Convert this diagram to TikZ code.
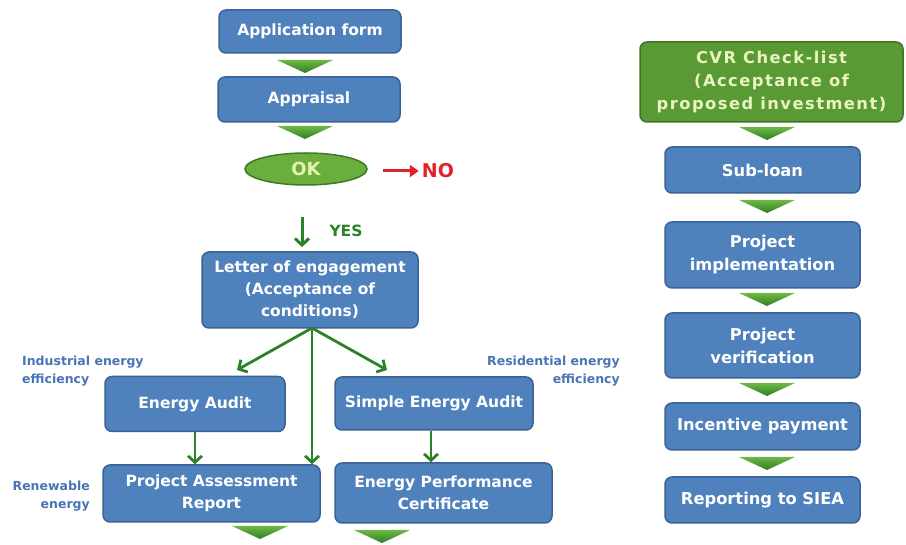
\documentclass[tikz,border=0pt]{standalone}
\usepackage{fontspec}
\setmainfont{DejaVu Sans}
\usetikzlibrary{arrows.meta,shapes.geometric,calc}
\definecolor{boxblue}{HTML}{4F81BD}
\definecolor{boxedge}{HTML}{3A6296}
\definecolor{cvrgreen}{HTML}{5A9A35}
\definecolor{cvredge}{HTML}{3E7324}
\definecolor{cvrtext}{HTML}{EAF4C0}
\definecolor{arrgreen}{HTML}{2C8228}
\definecolor{lblblue}{HTML}{4A73B5}
\definecolor{okfill}{HTML}{6AAE3E}
\definecolor{okedge}{HTML}{3E7A24}
\definecolor{oktext}{HTML}{E6F2B0}
\definecolor{noRed}{HTML}{E0232B}
\definecolor{trilight}{HTML}{6FB845}
\definecolor{tridark}{HTML}{2F7F22}
\begin{document}
\begin{tikzpicture}[x=1pt,y=-1pt,
  box/.style={draw=boxedge, line width=1.5pt, fill=boxblue, rounded corners=7pt,
    text=white, align=center, inner sep=0pt,
    font=\bfseries\fontsize{15.5}{22}\selectfont},
  rbox/.style={box, font=\bfseries\fontsize{16.3}{23}\selectfont},
  cvrbox/.style={box, draw=cvredge, fill=cvrgreen, text=cvrtext,
    font=\bfseries\fontsize{16.3}{23}\selectfont\addfontfeatures{LetterSpace=9}},
  okell/.style={ellipse, draw=okedge, line width=1.5pt, fill=okfill, text=oktext,
    inner sep=0pt, font=\bfseries\fontsize{18}{20}\selectfont},
  lbl/.style={text=lblblue, inner sep=0pt, font=\bfseries\fontsize{12.5}{18}\selectfont},
  garrow/.style={draw=arrgreen, line width=2.8pt, -{Straight Barb[length=6.5pt,width=14pt]}},
  tri/.pic={\shade[top color=trilight, bottom color=tridark] (-28,0) -- (28,0) -- (0,13) -- cycle;}
]
\useasboundingbox (0,0) rectangle (906,545);

% left column
\node[box, minimum width=182pt, minimum height=43pt] (app) at (310,31.5) {Application form};
\pic at (305,60) {tri};
\node[box, minimum width=182pt, minimum height=45pt] (appr) at (309,99.5) {Appraisal};
\pic at (305,126) {tri};
\node[okell, minimum width=122pt, minimum height=32pt] (ok) at (306,169) {OK};
\node[text=noRed, inner sep=0pt, font=\bfseries\fontsize{19}{22}\selectfont] (no) at (438,171) {NO};
\coordinate (noStart) at (383,171);
\draw[noRed, line width=3pt, -{Triangle[length=9pt,width=12pt]}] (noStart) -- ([xshift=-3pt]no.west);

\coordinate (yesA) at (302,217);
\coordinate (yesB) at (302,247);
\draw[draw=arrgreen, line width=3pt, -{Straight Barb[length=6.5pt,width=14pt]}] (yesA) -- (yesB);
\node[text=arrgreen, inner sep=0pt, font=\bfseries\fontsize{15.5}{18}\selectfont] (yes) at (346,231) {YES};

\node[box, minimum width=216pt, minimum height=76pt] (loe) at (310,290)
  {Letter of engagement\\(Acceptance of\\conditions)};

\node[box, minimum width=180pt, minimum height=55pt] (ea) at (195,404) {Energy Audit};
\node[box, minimum width=198pt, minimum height=53pt] (sea) at (434,403.5) {Simple Energy Audit};
\node[box, minimum width=217pt, minimum height=57pt] (par) at (211.5,493.5) {Project Assessment\\Report};
\node[box, minimum width=217pt, minimum height=60pt] (epc) at (443.5,493) {Energy Performance\\Certificate};

\node[lbl, align=left, anchor=west] (ind) at (22,371) {Industrial energy\\efficiency};
\node[lbl, align=right, anchor=east] (res) at (620,371) {Residential energy\\efficiency};
\node[lbl, align=right, anchor=east] (ren) at (90,496) {Renewable\\energy};

\coordinate (loeB) at (312,328);
\coordinate (eaTip) at (237,370);
\coordinate (seaTip) at (387,370);
\draw[garrow] (loeB) -- (eaTip);
\draw[garrow] (loeB) -- (seaTip);
\draw[garrow] (loeB) -- (loeB |- par.north);
\draw[garrow] (ea.south) -- (ea.south |- par.north);
\draw[garrow] ([xshift=-3pt]sea.south) -- ([xshift=-3pt]sea.south |- epc.north);

\pic at (260,526) {tri};
\pic at (382,530) {tri};

% right column
\node[cvrbox, minimum width=263pt, minimum height=80pt] (cvr) at (771.5,82)
  {CVR Check-list\\(Acceptance of\\proposed investment)};
\pic at (767,127) {tri};
\node[rbox, minimum width=195pt, minimum height=46pt] (sub) at (762.5,170) {Sub-loan};
\pic at (767,200) {tri};
\node[rbox, minimum width=195pt, minimum height=66pt] (pi) at (762.5,255) {Project\\implementation};
\pic at (767,293) {tri};
\node[rbox, minimum width=195pt, minimum height=65pt] (pv) at (762.5,345.5) {Project\\verification};
\pic at (767,383) {tri};
\node[rbox, minimum width=195pt, minimum height=47pt] (ip) at (762.5,426.5) {Incentive payment};
\pic at (767,457) {tri};
\node[rbox, minimum width=195pt, minimum height=46pt] (rs) at (762.5,500) {Reporting to SIEA};
\end{tikzpicture}
\end{document}
